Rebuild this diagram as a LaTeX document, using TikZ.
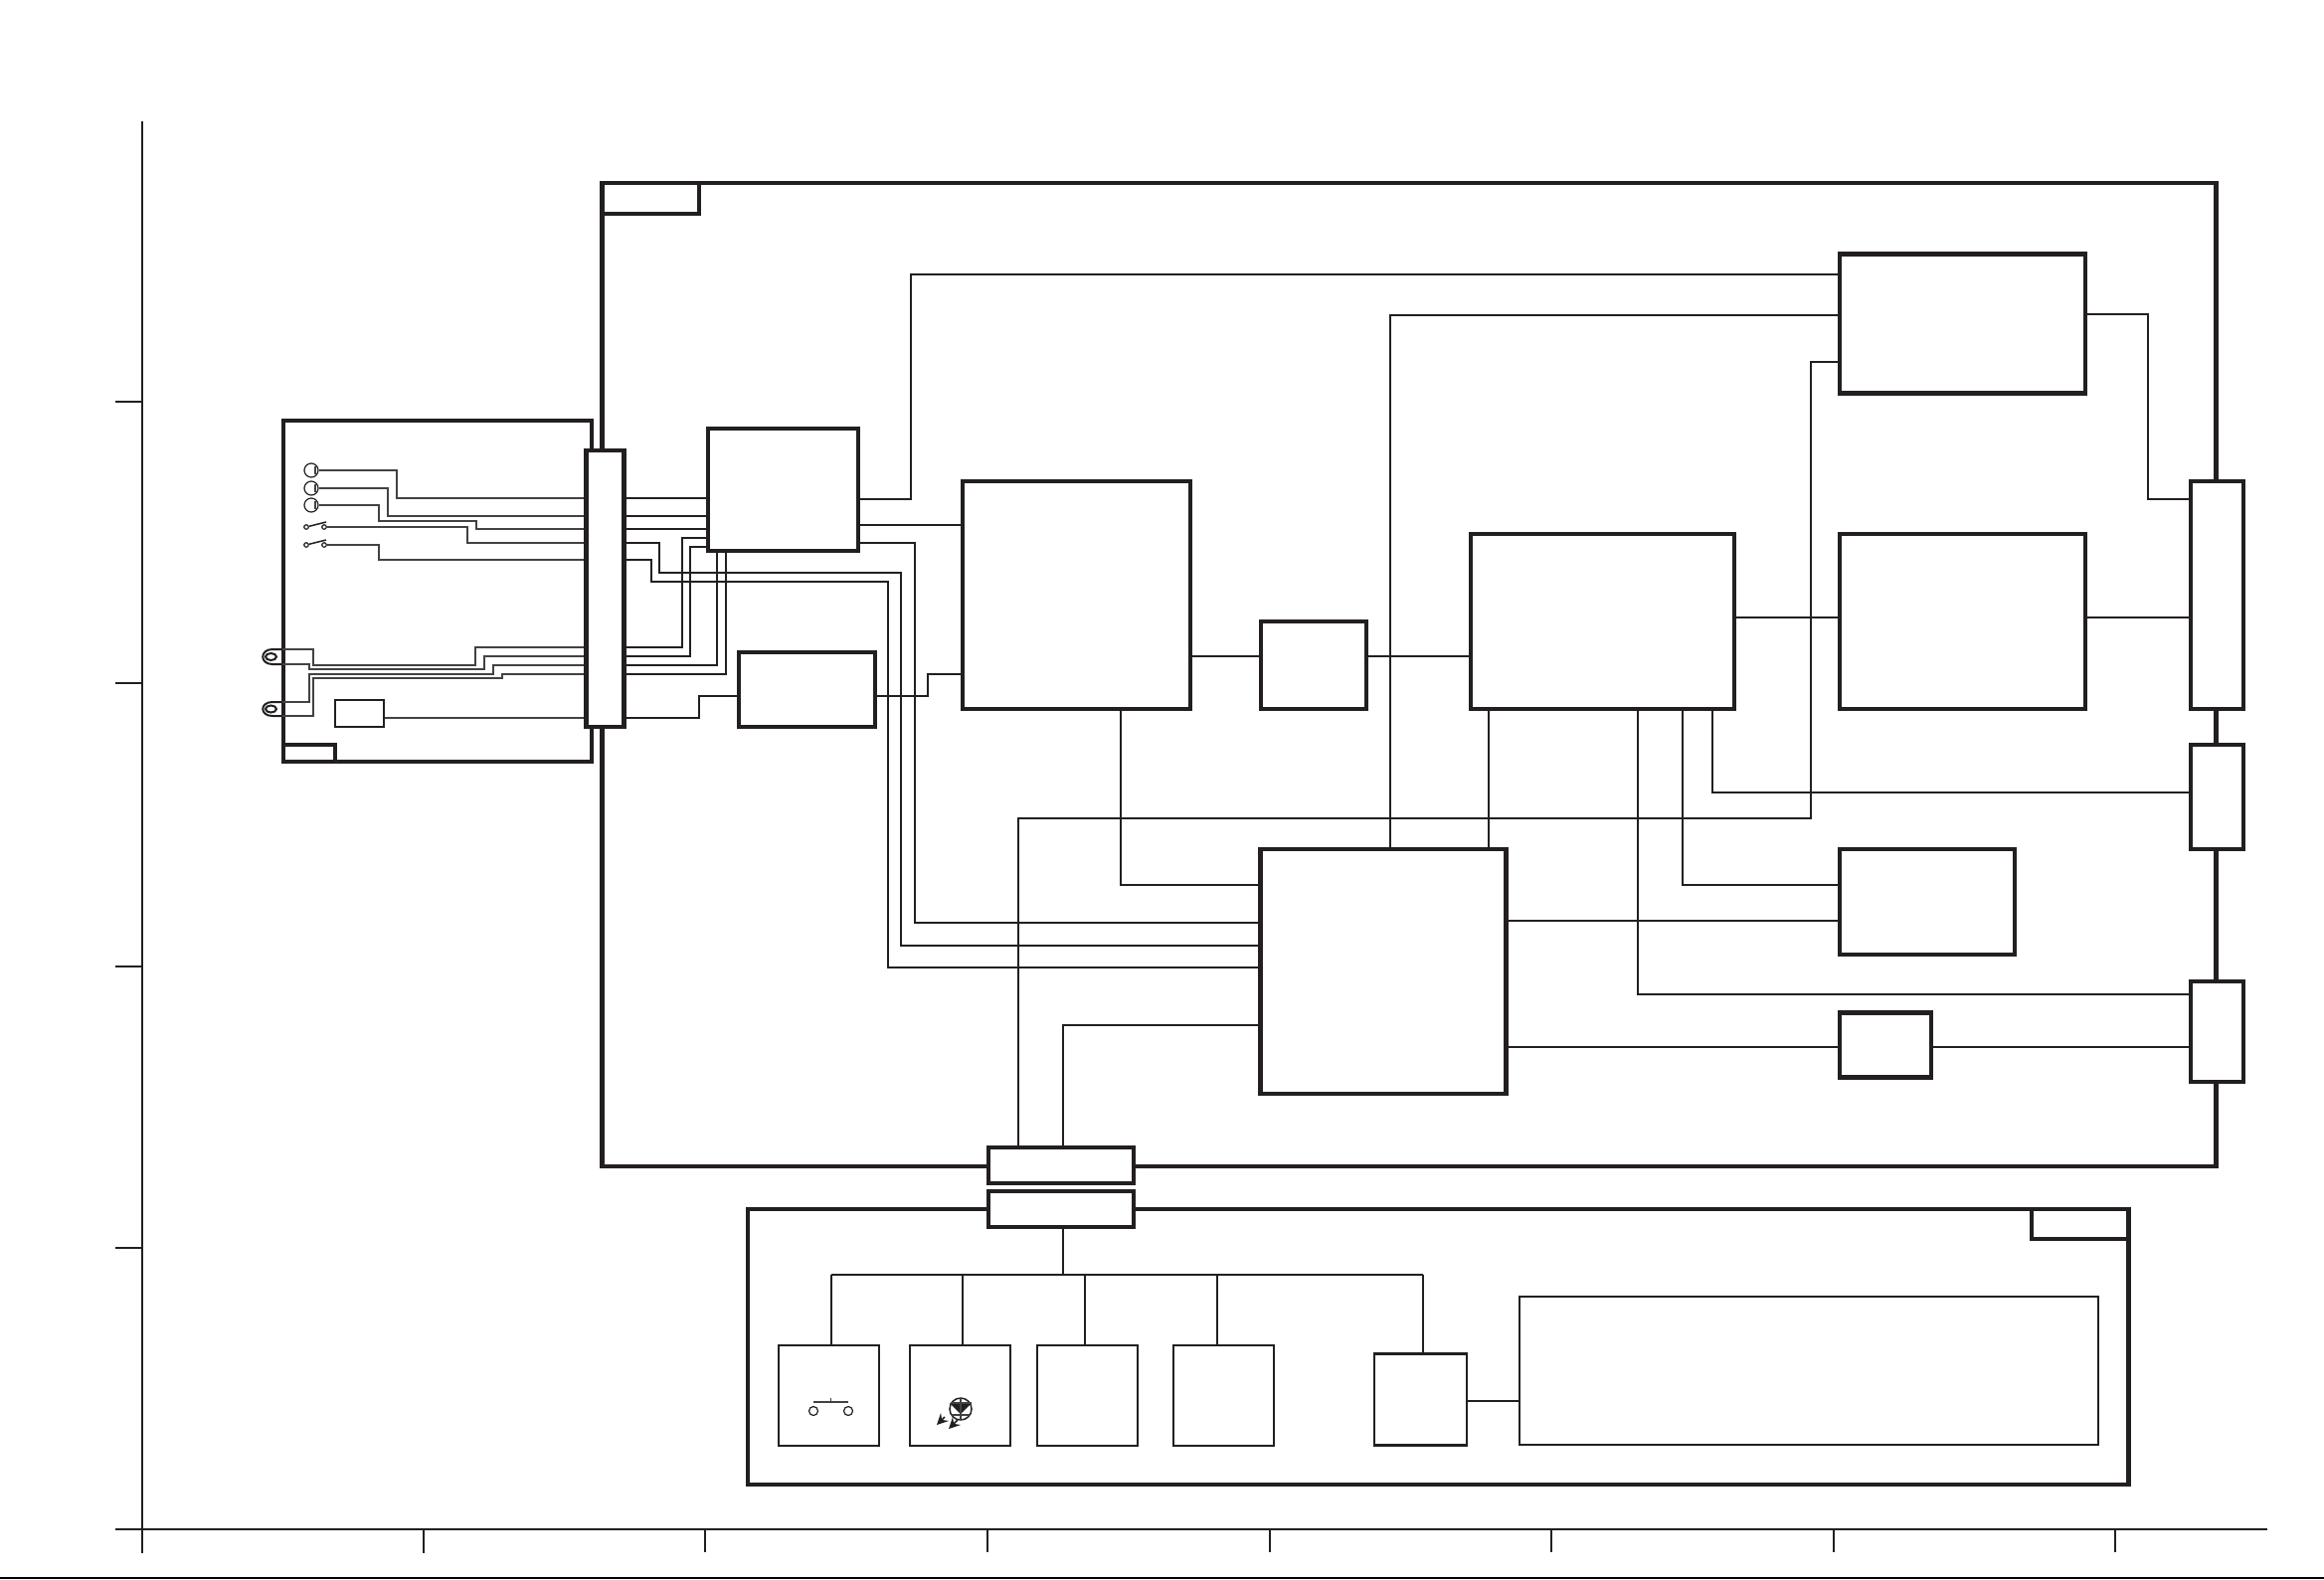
\documentclass[tikz,border=0pt]{standalone}
\usepackage{tikz}
\usetikzlibrary{shapes,arrows,positioning}
\definecolor{ink}{HTML}{231F20}
\tikzset{
    frm/.style={rectangle, draw=ink, line width=0.042cm, fill=white, inner sep=0pt},
    sub/.style={rectangle, draw=ink, line width=0.028cm, fill=white, inner sep=0pt},
    lnk/.style={draw=ink, line width=0.02cm},
    fine/.style={draw=ink!85, line width=0.015cm},
    axis/.style={draw=ink, line width=0.02cm},
    sym/.style={circle, draw=ink, line width=0.012cm, fill=white, inner sep=0pt}
}
\begin{document}
\begin{tikzpicture}[x=0.01cm, y=-0.01cm]
    \useasboundingbox (0,0) rectangle (2337,1588);

    % scale round the page
    \draw[axis] (143,122) -- (143,1562);
    \draw[axis, line width=0.025cm] (116,1538) -- (2280,1538);
    \draw[axis] (116,404) -- (143,404) (116,687) -- (143,687) (116,972) -- (143,972) (116,1255) -- (143,1255);
    \draw[axis] (425.5,1538) -- (425.5,1562) (709.4,1538) -- (709.4,1561) (992.6,1538) -- (992.6,1561) (1277,1538) -- (1277,1561);
    \draw[axis] (1560,1538) -- (1560,1561) (1843.6,1538) -- (1843.6,1561) (2127,1538) -- (2127,1561);
    \draw[black, line width=0.02cm] (0,1587) -- (2337,1587);

    % outer frames
    \node (mainfrm) [frm, fill=none, minimum width=16.22cm, minimum height=9.89cm] at (1417,678.5) {};
    \node (maintab) [frm, fill=none, minimum width=0.97cm, minimum height=0.31cm] at (654.5,199.5) {};
    \node (panelfrm) [frm, fill=none, minimum width=3.10cm, minimum height=3.43cm] at (440,594.5) {};
    \node (paneltab) [frm, fill=none, minimum width=0.52cm, minimum height=0.17cm] at (311,757.5) {};
    \node (lowfrm) [frm, fill=none, minimum width=13.88cm, minimum height=2.77cm] at (1446,1354.5) {};
    \node (lowtab) [frm, fill=none, minimum width=0.97cm, minimum height=0.30cm] at (2091.5,1231) {};

    % connectors on the frames
    \node (conleft) [frm, minimum width=0.38cm, minimum height=2.78cm] at (608.5,592) {};
    \node (conrone) [frm, minimum width=0.53cm, minimum height=2.29cm] at (2229.5,598.5) {};
    \node (conrtwo) [frm, minimum width=0.53cm, minimum height=1.05cm] at (2229.5,801.5) {};
    \node (conrthree) [frm, minimum width=0.53cm, minimum height=1.01cm] at (2229.5,1037.5) {};
    \node (conbup) [frm, minimum width=1.46cm, minimum height=0.36cm] at (1067,1172) {};
    \node (conbdown) [frm, minimum width=1.46cm, minimum height=0.36cm] at (1067,1216) {};

    % main blocks
    \node (blka) [frm, minimum width=1.51cm, minimum height=1.23cm] at (787.5,492.5) {};
    \node (blkb) [frm, minimum width=1.37cm, minimum height=0.75cm] at (811.5,693.5) {};
    \node (blkc) [frm, minimum width=2.29cm, minimum height=2.29cm] at (1082.5,598.5) {};
    \node (blkd) [frm, minimum width=1.06cm, minimum height=0.88cm] at (1321,669) {};
    \node (blke) [frm, minimum width=2.65cm, minimum height=1.76cm] at (1611.5,625) {};
    \node (blkf) [frm, minimum width=2.47cm, minimum height=1.40cm] at (1973.5,325.5) {};
    \node (blkg) [frm, minimum width=2.47cm, minimum height=1.76cm] at (1973.5,625) {};
    \node (blkh) [frm, minimum width=2.47cm, minimum height=2.46cm] at (1391,977) {};
    \node (blki) [frm, minimum width=1.76cm, minimum height=1.06cm] at (1938,907) {};
    \node (blkj) [frm, minimum width=0.92cm, minimum height=0.65cm] at (1896,1051) {};

    % lower row
    \node (keybox) [sub, minimum width=1.01cm, minimum height=1.01cm] at (833.5,1403.5) {};
    \node (ledbox) [sub, minimum width=1.01cm, minimum height=1.01cm] at (965.5,1403.5) {};
    \node (boxc) [sub, minimum width=1.01cm, minimum height=1.01cm] at (1093.5,1403.5) {};
    \node (boxd) [sub, minimum width=1.01cm, minimum height=1.01cm] at (1230.5,1403.5) {};
    \node (boxe) [sub, minimum width=0.93cm, minimum height=0.92cm] at (1428.5,1407.5) {};
    \node (boxf) [sub, line width=0.02cm, minimum width=5.81cm, minimum height=1.49cm] at (1819,1378.5) {};

    % left panel parts
    \node (sena) [sym, minimum size=0.14cm] at (313,473) {};
    \node (senb) [sym, minimum size=0.14cm] at (313,491) {};
    \node (senc) [sym, minimum size=0.14cm] at (313,508) {};
    \draw[fine] (317,469) -- (317,477) (317,487) -- (317,495) (317,504) -- (317,512);
    \node (swaa) [sym, minimum size=0.045cm] at (308,530) {};
    \node (swab) [sym, minimum size=0.045cm] at (326,530) {};
    \node (swba) [sym, minimum size=0.045cm] at (308,548) {};
    \node (swbb) [sym, minimum size=0.045cm] at (326,548) {};
    \draw[lnk, line width=0.015cm] (swaa) -- (328,525);
    \draw[lnk, line width=0.015cm] (swba) -- (328,543);
    \node (small) [sub, line width=0.02cm, minimum width=0.49cm, minimum height=0.27cm] at (361.5,717.5) {};
    \coordinate (jkaa) at (284,653);
    \coordinate (jkab) at (284,668);
    \coordinate (jkba) at (284,706);
    \coordinate (jkbb) at (284,720);
    \draw[lnk] (jkaa) -- (274,653) .. controls (261,653) and (261,668) .. (274,668) -- (jkab);
    \draw[lnk] (jkba) -- (274,706) .. controls (261,706) and (261,720) .. (274,720) -- (jkbb);
    \draw[lnk] (272.5,660.5) ellipse (5.5 and 3.5);
    \draw[lnk] (272.5,713) ellipse (5.5 and 3.5);

    % left panel wires
    \draw[fine] (sena.east) -- (399,473) -- (399,501) -- (conleft.west |- 0,501);
    \draw[fine] (senb.east) -- (390,491) -- (390,519) -- (conleft.west |- 0,519);
    \draw[fine] (senc.east) -- (381,508) -- (381,524) -- (479,524) -- (479,532) -- (conleft.west |- 0,532);
    \draw[fine] (swab.east) -- (470,530) -- (470,546) -- (conleft.west |- 0,546);
    \draw[fine] (swbb.east) -- (381,548) -- (381,563) -- (conleft.west |- 0,563);
    \draw[fine] (jkaa) -- (315,653) -- (315,669) -- (478,669) -- (478,651) -- (conleft.west |- 0,651);
    \draw[fine] (jkab) -- (311,668) -- (311,673) -- (487,673) -- (487,660) -- (conleft.west |- 0,660);
    \draw[fine] (jkba) -- (311,706) -- (311,678) -- (496,678) -- (496,669) -- (conleft.west |- 0,669);
    \draw[fine] (jkbb) -- (315,720) -- (315,682) -- (505,682) -- (505,678) -- (conleft.west |- 0,678);
    \draw[fine] (small.east |- 0,722) -- (conleft.west |- 0,722);

    % from the left connector
    \draw[lnk] (conleft.east |- 0,501) -- (blka.west |- 0,501);
    \draw[lnk] (conleft.east |- 0,519) -- (blka.west |- 0,519);
    \draw[lnk] (conleft.east |- 0,532) -- (blka.west |- 0,532);
    \draw[lnk] (conleft.east |- 0,546) -- (663,546) -- (663,576) -- (906,576) -- (906,951) -- (blkh.west |- 0,951);
    \draw[lnk] (conleft.east |- 0,563) -- (655,563) -- (655,585) -- (893,585) -- (893,973) -- (blkh.west |- 0,973);
    \draw[lnk] (conleft.east |- 0,651) -- (686,651) -- (686,541) -- (blka.west |- 0,541);
    \draw[lnk] (conleft.east |- 0,660) -- (694,660) -- (694,550) -- (blka.west |- 0,550);
    \draw[lnk] (conleft.east |- 0,669) -- (721,669) -- (blka.south -| 721,0);
    \draw[lnk] (conleft.east |- 0,678) -- (730,678) -- (blka.south -| 730,0);
    \draw[lnk] (conleft.east |- 0,722) -- (703,722) -- (703,700) -- (blkb.west |- 0,700);

    % main block links
    \draw[lnk] (blkb.east |- 0,700) -- (933,700) -- (933,678) -- (blkc.west |- 0,678);
    \draw[lnk] (blka.east |- 0,502) -- (916,502) -- (916,276) -- (blkf.west |- 0,276);
    \draw[lnk] (blka.east |- 0,528) -- (blkc.west |- 0,528);
    \draw[lnk] (blka.east |- 0,546) -- (920,546) -- (920,928) -- (blkh.west |- 0,928);
    \draw[lnk] (blkc.east |- 0,660) -- (blkd.west |- 0,660);
    \draw[lnk] (blkd.east |- 0,660) -- (blke.west |- 0,660);
    \draw[lnk] (blkc.south -| 1127,0) -- (1127,890) -- (blkh.west |- 0,890);
    \draw[lnk] (blke.east |- 0,620.5) -- (blkg.west |- 0,620.5);
    \draw[lnk] (blkg.east |- 0,620.5) -- (conrone.west |- 0,620.5);
    \draw[lnk] (blkf.east |- 0,316) -- (2160,316) -- (2160,502) -- (conrone.west |- 0,502);
    \draw[lnk] (blkf.west |- 0,317) -- (1398,317) -- (blkh.north -| 1398,0);
    \draw[lnk] (blkf.west |- 0,364) -- (1821,364) -- (1821,823) -- (1024,823) -- (conbup.north -| 1024,0);
    \draw[lnk] (blke.south -| 1497,0) -- (blkh.north -| 1497,0);
    \draw[lnk] (blke.south -| 1647,0) -- (1647,1000) -- (conrthree.west |- 0,1000);
    \draw[lnk] (blke.south -| 1692,0) -- (1692,890) -- (blki.west |- 0,890);
    \draw[lnk] (blke.south -| 1722,0) -- (1722,797) -- (conrtwo.west |- 0,797);
    \draw[lnk] (blkh.east |- 0,926) -- (blki.west |- 0,926);
    \draw[lnk] (blkh.east |- 0,1053) -- (blkj.west |- 0,1053);
    \draw[lnk] (blkj.east |- 0,1053) -- (conrthree.west |- 0,1053);
    \draw[lnk] (blkh.west |- 0,1031) -- (1069,1031) -- (conbup.north -| 1069,0);

    % lower row links
    \draw[lnk] (conbdown.south -| 1069,0) -- (1069,1282);
    \draw[lnk] (836,1282) -- (1431,1282);
    \draw[lnk] (keybox.north -| 836,0) -- (836,1282);
    \draw[lnk] (ledbox.north -| 968,0) -- (968,1282);
    \draw[lnk] (boxc.north -| 1091,0) -- (1091,1282);
    \draw[lnk] (boxd.north -| 1224,0) -- (1224,1282);
    \draw[lnk] (boxe.north -| 1431,0) -- (1431,1282);
    \draw[lnk] (boxe.east |- 0,1409) -- (boxf.west |- 0,1409);

    % push key symbol
    \node (keya) [sym, minimum size=0.09cm] at (818,1419) {};
    \node (keyb) [sym, minimum size=0.09cm] at (853,1419) {};
    \draw[fine] (818,1410) -- (853,1410) (835.5,1406) -- (835.5,1410);

    % led symbol
    \node (ledc) [sym, line width=0.015cm, minimum size=0.22cm] at (966,1417) {};
    \fill[ink] (955,1411) -- (977,1411) -- (966,1422) -- cycle;
    \draw[fine] (955.5,1411) -- (976.5,1411) (957,1423) -- (975,1423) (966,1406) -- (966,1428);
    \draw[lnk, line width=0.015cm, -stealth] (950,1425) -- (942,1433);
    \draw[lnk, line width=0.015cm, -stealth] (963,1428) -- (954,1437);
\end{tikzpicture}
\end{document}
